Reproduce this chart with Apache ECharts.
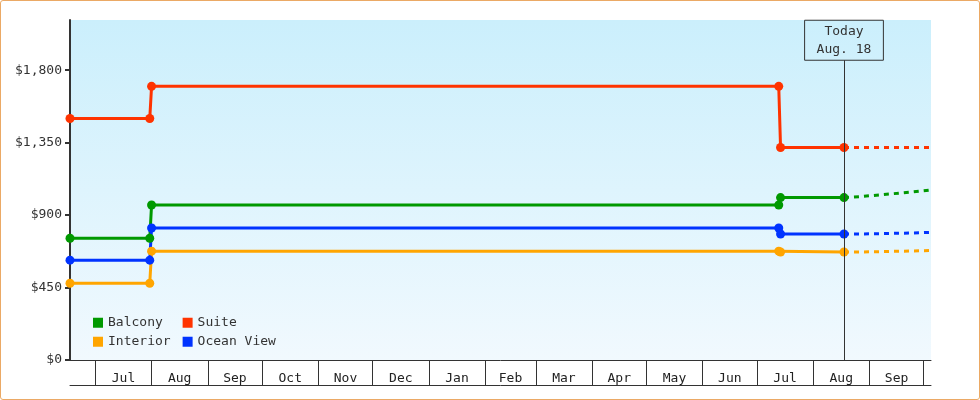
<script src="https://cdn.jsdelivr.net/npm/echarts@6/dist/echarts.min.js"></script>

<style>
  body { margin: 0; }
  #wrap { position: relative; width: 980px; height: 400px; }
  #chart { width: 980px; height: 400px; }
  #frame {
    position: absolute; left: 0; top: 0; right: 0; bottom: 0;
    border: 1px solid #eba965; border-radius: 3px; pointer-events: none;
  }
</style>

<div id="wrap">
  <div id="chart"></div>
  <div id="frame"></div>
</div>

<script>
  // price history dates (step points) and forecast dates
  const dates = ['2016-06-17', '2016-07-31', '2016-08-01', '2017-07-13', '2017-07-14', '2017-08-18'];
  const forecastDates = ['2017-08-18', '2017-08-28', '2017-08-29', '2017-09-25', '2017-09-26', '2017-10-05'];
  const today = '2017-08-18';
  const todayLabel = 'Aug. 18';

  const balcony = [756, 756, 963, 963, 1009, 1009];
  const interior = [477, 477, 676, 676, 671, 671];
  const oceanView = [620, 620, 820, 820, 783, 783];
  const suite = [1500, 1500, 1700, 1700, 1320, 1320];

  const balconyForecast = [1009, 1016, 1018, 1044, 1050, 1056];
  const interiorForecast = [671, 671, 677, 677, 680, 680];
  const oceanViewForecast = [783, 783, 789, 789, 793, 793];
  const suiteForecast = [1320, 1320, 1320, 1320, 1320, 1320];

  const monthStarts = ['2016-07-01', '2016-08-01', '2016-09-01', '2016-10-01', '2016-11-01', '2016-12-01',
    '2017-01-01', '2017-02-01', '2017-03-01', '2017-04-01', '2017-05-01', '2017-06-01',
    '2017-07-01', '2017-08-01', '2017-09-01', '2017-10-01'];
  const monthNames = ['Jul', 'Aug', 'Sep', 'Oct', 'Nov', 'Dec', 'Jan', 'Feb', 'Mar', 'Apr', 'May', 'Jun', 'Jul', 'Aug', 'Sep'];
  const yTicks = [0, 450, 900, 1350, 1800];

  const axisStart = '2016-06-17';
  const axisEnd = '2017-10-05';

  const FONT = '"DejaVu Sans Mono", monospace';
  const DAY = 86400000;
  const day = (d) => (Date.parse(d) - Date.parse('2016-07-01')) / DAY;

  const tickDays = monthStarts.map(day);
  const labelDays = tickDays.slice(1).map((d, i) => (d + tickDays[i]) / 2);

  const ready = (fn) => {
    if (document.readyState !== "loading") {
      fn();
    } else {
      document.addEventListener("DOMContentLoaded", fn);
    }
  };

  ready(() => {
    const chartDom = document.getElementById("chart");
    const myChart = echarts.init(chartDom, null, { renderer: "canvas" });

    const pairs = (xs, ys) => xs.map((d, i) => [day(d), ys[i]]);

    const solid = (name, color, values) => ({
      name,
      type: 'line',
      data: pairs(dates, values),
      color,
      symbol: 'circle',
      symbolSize: 9,
      clip: false,
      lineStyle: { width: 3, color },
      itemStyle: { color },
      z: 3
    });

    const forecast = (name, color, values) => ({
      name,
      type: 'line',
      data: pairs(forecastDates, values),
      color,
      showSymbol: false,
      symbol: 'none',
      lineStyle: { width: 3, color, type: [5, 5] },
      z: 2
    });

    const suiteSeries = solid('Suite', '#ff3300', suite);
    suiteSeries.markLine = {
      silent: true,
      symbol: 'none',
      lineStyle: { color: '#333', width: 1, type: 'solid' },
      label: {
        show: true,
        position: 'end',
        distance: 0,
        formatter: 'Today\n' + todayLabel,
        fontFamily: FONT,
        fontSize: 13,
        lineHeight: 18,
        color: '#333',
        align: 'center',
        borderColor: '#333',
        borderWidth: 1,
        padding: [2, 12, 2, 12]
      },
      data: [[{ coord: [day(today), 0] }, { coord: [day(today), 1862] }]]
    };

    // two legend rows; names padded (monospace) so the columns line up
    const legendBase = {
      orient: 'horizontal',
      left: 88,
      icon: 'rect',
      itemWidth: 10,
      itemHeight: 10,
      itemGap: 12,
      formatter: (name) => name.padEnd(8, '\u00a0'),
      textStyle: { fontFamily: FONT, fontSize: 13, color: '#333' }
    };

    const option = {
      animation: false,
      grid: { left: 70, right: 49, top: 20, bottom: 40, show: true, borderWidth: 0,
        backgroundColor: new echarts.graphic.LinearGradient(0, 0, 0, 1, [
          { offset: 0, color: '#cbeffc' },
          { offset: 1, color: '#f1f9fe' }
        ]) },
      legend: [
        Object.assign({ top: 306, data: ['Balcony', 'Suite'] }, legendBase),
        Object.assign({ top: 325, data: ['Interior', 'Ocean View'] }, legendBase)
      ],
      xAxis: [
        {
          type: 'value',
          min: day(axisStart),
          max: day(axisEnd),
          splitLine: { show: false },
          axisLine: { show: true, onZero: false, lineStyle: { color: '#333', width: 1 } },
          axisTick: { show: true, length: 25, customValues: tickDays, lineStyle: { color: '#333', width: 1 } },
          axisLabel: {
            customValues: labelDays,
            margin: 7,
            fontFamily: FONT,
            fontSize: 13,
            color: '#222',
            formatter: (v) => {
              const i = labelDays.findIndex((d) => Math.abs(d - v) < 0.6);
              return i >= 0 ? monthNames[i] : '';
            }
          }
        },
        {
          type: 'value',
          position: 'bottom',
          offset: 25,
          min: day(axisStart),
          max: day(axisEnd),
          splitLine: { show: false },
          axisLine: { show: true, onZero: false, lineStyle: { color: '#333', width: 1 } },
          axisTick: { show: false },
          axisLabel: { show: false }
        }
      ],
      yAxis: {
        type: 'value',
        min: 0,
        max: 2112,
        splitLine: { show: false },
        axisLine: { show: true, onZero: false, lineStyle: { color: '#333', width: 2 } },
        axisTick: { show: true, length: 5, customValues: yTicks, lineStyle: { color: '#333', width: 2 } },
        axisLabel: {
          customValues: yTicks,
          margin: 8,
          fontFamily: FONT,
          fontSize: 13,
          color: '#333',
          formatter: (v) => '$' + v.toLocaleString('en-US')
        }
      },
      series: [
        solid('Balcony', '#009900', balcony),
        suiteSeries,
        solid('Interior', '#ffa500', interior),
        solid('Ocean View', '#0033ff', oceanView),
        forecast('Balcony', '#009900', balconyForecast),
        forecast('Suite', '#ff3300', suiteForecast),
        forecast('Interior', '#ffa500', interiorForecast),
        forecast('Ocean View', '#0033ff', oceanViewForecast)
      ]
    };
    myChart.setOption(option);
  });
</script>
